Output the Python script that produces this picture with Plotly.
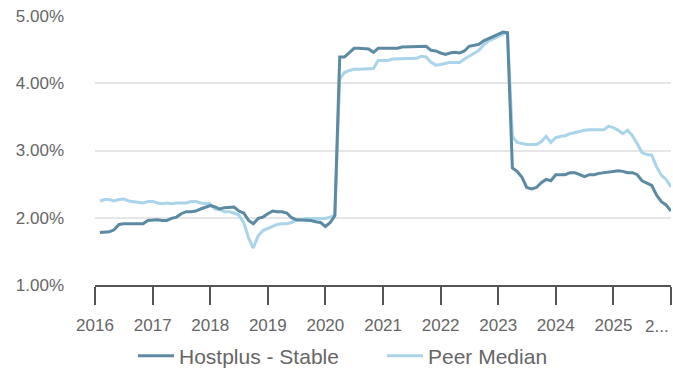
import pandas as pd
import plotly.graph_objects as go

# Monthly crediting rates (%), Feb 2016 – Jan 2026
months = pd.date_range("2016-02-01", periods=120, freq="MS")

hostplus_stable = [
    1.78, 1.79, 1.79, 1.82, 1.90, 1.91, 1.91, 1.91, 1.90, 1.91,
    1.96, 1.97, 1.97, 1.96, 1.96, 1.99, 2.01, 2.06, 2.09, 2.09,
    2.10, 2.13, 2.15, 2.18, 2.16, 2.13, 2.15, 2.16, 2.16, 2.10,
    2.07, 1.96, 1.91, 1.99, 2.01, 2.06, 2.10, 2.09, 2.09, 2.07,
    2.00, 1.97, 1.97, 1.96, 1.96, 1.94, 1.93, 1.87, 1.93, 2.03,
    4.39, 4.39, 4.46, 4.52, 4.52, 4.52, 4.51, 4.46, 4.52, 4.52,
    4.52, 4.52, 4.52, 4.54, 4.54, 4.54, 4.54, 4.55, 4.55, 4.49,
    4.48, 4.45, 4.43, 4.45, 4.46, 4.45, 4.48, 4.55, 4.57, 4.58,
    4.63, 4.66, 4.70, 4.73, 4.76, 4.75, 2.74, 2.69, 2.60, 2.45,
    2.43, 2.45, 2.52, 2.57, 2.55, 2.64, 2.64, 2.64, 2.67, 2.67,
    2.64, 2.61, 2.64, 2.64, 2.66, 2.67, 2.69, 2.69, 2.70, 2.69,
    2.67, 2.67, 2.64, 2.55, 2.51, 2.48, 2.34, 2.24, 2.19, 2.10,
]

peer_median = [
    2.25, 2.27, 2.27, 2.25, 2.27, 2.28, 2.25, 2.24, 2.22, 2.22,
    2.24, 2.24, 2.22, 2.21, 2.22, 2.21, 2.22, 2.22, 2.22, 2.24,
    2.24, 2.22, 2.22, 2.21, 2.13, 2.12, 2.09, 2.09, 2.07, 2.04,
    1.93, 1.70, 1.55, 1.73, 1.81, 1.84, 1.87, 1.90, 1.91, 1.91,
    1.93, 1.96, 1.97, 1.99, 1.99, 1.99, 1.99, 1.99, 2.01, 2.04,
    4.06, 4.16, 4.19, 4.21, 4.21, 4.21, 4.21, 4.22, 4.34, 4.34,
    4.34, 4.36, 4.36, 4.36, 4.37, 4.37, 4.37, 4.40, 4.39, 4.31,
    4.27, 4.28, 4.30, 4.31, 4.31, 4.31, 4.36, 4.40, 4.45, 4.49,
    4.57, 4.63, 4.66, 4.70, 4.73, 4.75, 3.21, 3.12, 3.10, 3.09,
    3.09, 3.09, 3.13, 3.21, 3.12, 3.19, 3.21, 3.22, 3.25, 3.27,
    3.28, 3.30, 3.31, 3.31, 3.30, 3.31, 3.36, 3.34, 3.30, 3.25,
    3.30, 3.22, 3.10, 2.97, 2.94, 2.93, 2.76, 2.63, 2.57, 2.46,
]

year_ticks = [f"{y}-01-01" for y in range(2016, 2027)]
year_labels = [str(y) for y in range(2016, 2026)] + [""]
y_ticks = [1, 2, 3, 4, 5]
y_labels = [f"{v:.2f}%" for v in y_ticks]

DARK = "#5b8aa2"
LIGHT = "#aad4e9"
FONT = "Liberation Sans, Arial, sans-serif"
TEXT = "#666666"

fig = go.Figure()
fig.add_trace(go.Scatter(
    x=months, y=peer_median, mode="lines", name="Peer Median",
    line=dict(color=LIGHT, width=3), legendrank=2,
))
fig.add_trace(go.Scatter(
    x=months, y=hostplus_stable, mode="lines", name="Hostplus - Stable",
    line=dict(color=DARK, width=3), legendrank=1,
))

fig.update_layout(
    width=673, height=369,
    margin=dict(l=95, r=2, t=16, b=84, autoexpand=False),
    paper_bgcolor="white", plot_bgcolor="white",
    font=dict(family=FONT, color=TEXT, size=17),
    showlegend=True,
    legend=dict(
        orientation="h", xref="container", yref="container",
        x=133 / 673, xanchor="left", y=1 - 356 / 369, yanchor="middle",
        font=dict(size=21, color=TEXT), itemwidth=36,
        entrywidth=198, entrywidthmode="pixels",
        traceorder="normal", bgcolor="rgba(0,0,0,0)",
    ),
    xaxis=dict(
        type="date", range=["2016-01-01", "2026-01-01"],
        tickmode="array", tickvals=year_ticks, ticktext=year_labels,
        showgrid=False, showline=True, linecolor="#555555", linewidth=2,
        ticks="outside", ticklen=18, tickwidth=2, tickcolor="#555555",
        tickfont=dict(size=17, color=TEXT), ticklabelstandoff=6,
        zeroline=False,
    ),
    yaxis=dict(
        range=[1, 5], tickmode="array", tickvals=y_ticks, ticktext=y_labels,
        showgrid=True, gridcolor="#e6e6e6", gridwidth=1.5,
        showline=False, zeroline=False, ticks="",
        ticklabelstandoff=30, tickfont=dict(size=17, color=TEXT),
    ),
)

# Truncated label for the final year tick at the right edge
fig.add_annotation(
    x="2026-01-01", xref="x", y=-0.155, yref="paper",
    text="2...", showarrow=False, xanchor="right", yanchor="middle",
    font=dict(size=17, color=TEXT, family=FONT),
)

fig.write_html("out.html")
